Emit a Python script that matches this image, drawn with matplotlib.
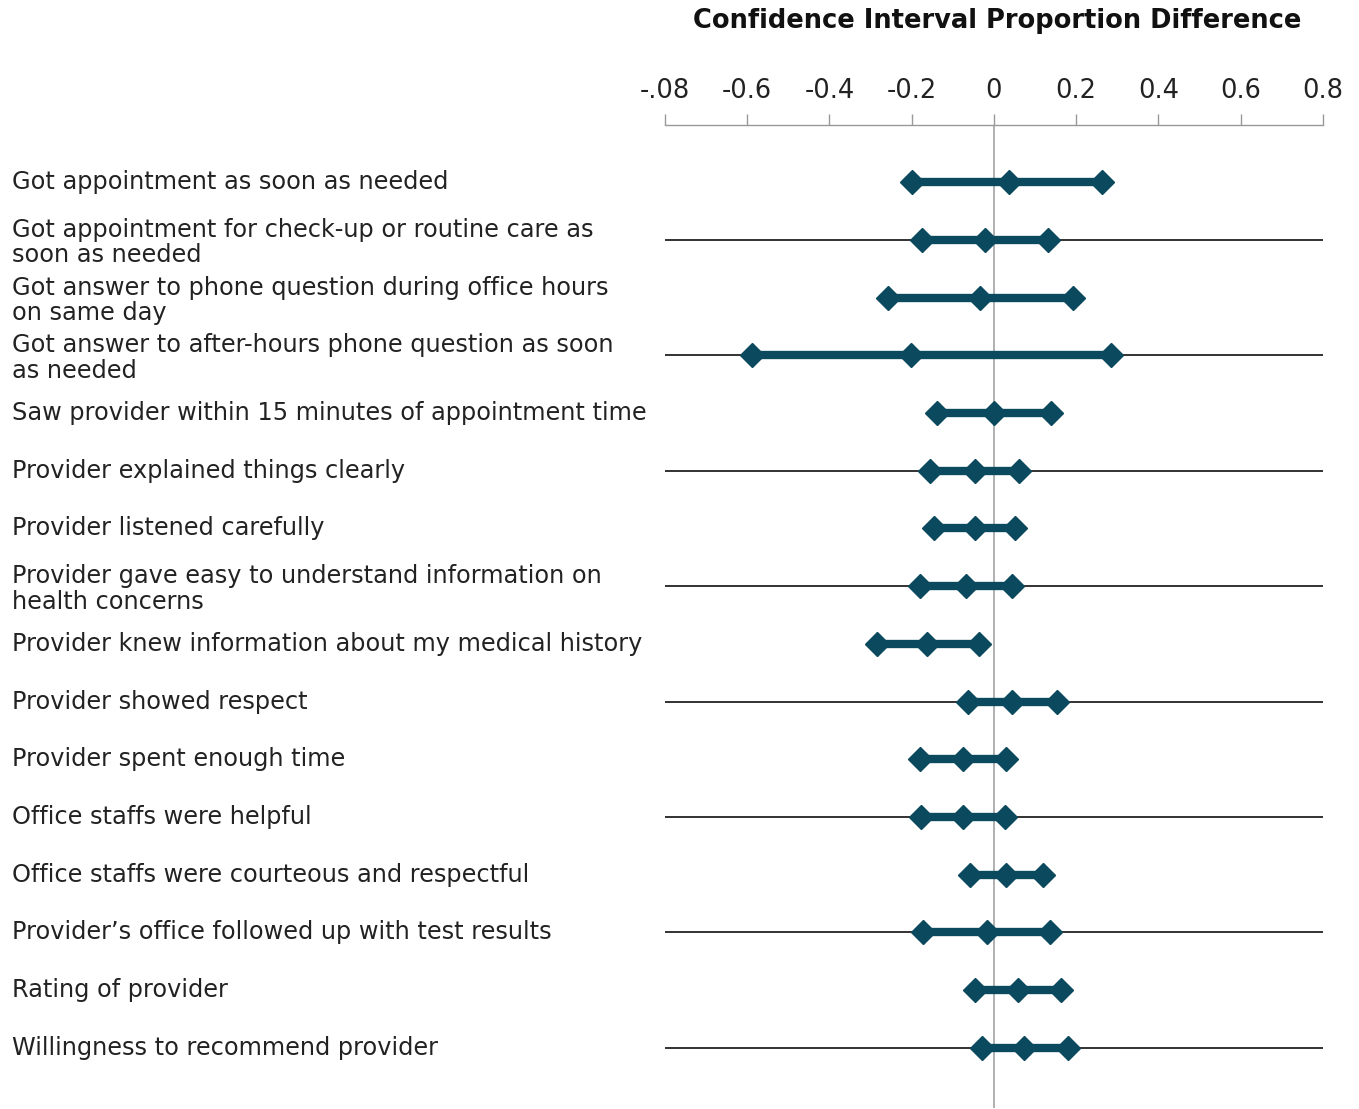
import numpy as np
import matplotlib.pyplot as plt

# datos
etiquetas = [
    "Got appointment as soon as needed",
    "Got appointment for check-up or routine care as\nsoon as needed",
    "Got answer to phone question during office hours\non same day",
    "Got answer to after-hours phone question as soon\nas needed",
    "Saw provider within 15 minutes of appointment time",
    "Provider explained things clearly",
    "Provider listened carefully",
    "Provider gave easy to understand information on\nhealth concerns",
    "Provider knew information about my medical history",
    "Provider showed respect",
    "Provider spent enough time",
    "Office staffs were helpful",
    "Office staffs were courteous and respectful",
    "Provider\u2019s office followed up with test results",
    "Rating of provider",
    "Willingness to recommend provider",
]
inferior = [-0.199, -0.175, -0.258, -0.588, -0.139, -0.156, -0.146, -0.180,
            -0.284, -0.063, -0.180, -0.178, -0.058, -0.173, -0.046, -0.029]
medio = [0.036, -0.022, -0.034, -0.202, 0.000, -0.046, -0.046, -0.068,
         -0.163, 0.044, -0.075, -0.075, 0.029, -0.017, 0.058, 0.073]
superior = [0.263, 0.131, 0.192, 0.284, 0.139, 0.061, 0.051, 0.044,
            -0.036, 0.153, 0.029, 0.027, 0.119, 0.136, 0.163, 0.180]

marcas = [-0.8, -0.6, -0.4, -0.2, 0, 0.2, 0.4, 0.6, 0.8]
textos_marcas = ["-.08", "-0.6", "-0.4", "-0.2", "0", "0.2", "0.4", "0.6", "0.8"]

color = "#0b4a5e"

fig = plt.figure(figsize=(13.59, 11.09), dpi=100)
ax = fig.add_axes([0.4893, 0.001, 0.4842, 0.8862])

n = len(etiquetas)
filas = np.arange(n)

# líneas horizontales en filas alternas
for i in filas[1::2]:
    ax.plot([-0.8, 0.8], [i, i], color="#222222", lw=1.3, zorder=1)

ax.axvline(0, color="#aaaaaa", lw=1.3, zorder=0)

for i in filas:
    ax.plot([inferior[i], superior[i]], [i, i], color=color, lw=6,
            solid_capstyle="butt", zorder=2)
    ax.plot([inferior[i], medio[i], superior[i]], [i, i, i], ls="none",
            marker="D", ms=12.5, color=color, zorder=3)

ax.set_xlim(-0.8, 0.8)
ax.set_ylim(16.04, -0.987)
ax.xaxis.tick_top()
ax.set_xticks(marcas)
ax.set_xticklabels(textos_marcas, fontsize=18.5, color="#222222")
ax.tick_params(axis="x", length=8, width=1, color="#999999", pad=7)
ax.set_yticks([])
for lado in ["left", "right", "bottom"]:
    ax.spines[lado].set_visible(False)
ax.spines["top"].set_color("#999999")
ax.spines["top"].set_linewidth(1)

for i in filas:
    desplaz = 3 if "\n" in etiquetas[i] else 0
    fig.text(12 / 1359, 1 - (182 + i * 57.73 + desplaz) / 1109, etiquetas[i],
             fontsize=17.3, color="#222222", va="center", ha="left",
             linespacing=1.08)

fig.text(997 / 1359, 1 - 21 / 1109, "Confidence Interval Proportion Difference",
         fontsize=18.5, fontweight="bold", ha="center", va="center", color="#111111")

fig.savefig("out.png", dpi=100, facecolor="white")
